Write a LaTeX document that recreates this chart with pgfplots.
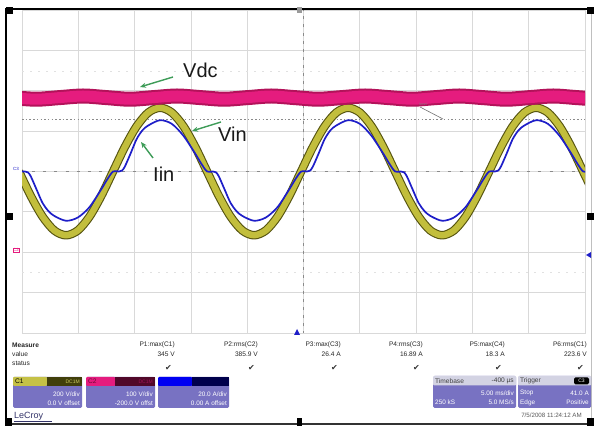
\documentclass[border=0pt]{standalone}
\usepackage{fontspec}
\setmainfont{Liberation Sans}
\newfontfamily\dejavu{DejaVu Sans}
\usepackage{pgfplots}
\usepackage{pgfplotstable}
\pgfplotsset{compat=1.18}
\usetikzlibrary{arrows.meta}

\definecolor{gridgray}{HTML}{D9D9D9}
\definecolor{dotgray}{HTML}{8A8A8A}
\definecolor{vdcPink}{HTML}{E51C7E}
\definecolor{vdcEdge}{HTML}{B3125A}
\definecolor{vinYellow}{HTML}{C2BE3C}
\definecolor{vinEdge}{HTML}{56540F}
\definecolor{iinBlue}{HTML}{1E1EC8}
\definecolor{arrowGreen}{HTML}{3E9C58}
\definecolor{boxPurple}{HTML}{7872C2}
\definecolor{stripGray}{HTML}{D3D3E3}

% traces in screen divisions (x: 5 ms/div, y: per channel V/div or A/div)
\pgfplotstableread{
x y
-0.053 0
0.156 -0.605
0.365 -1.117
0.573 -1.460
0.782 -1.58
0.991 -1.460
1.200 -1.117
1.408 -0.605
1.617 0
1.826 0.605
2.035 1.117
2.243 1.460
2.452 1.58
2.661 1.460
2.870 1.117
3.078 0.605
3.287 0
3.496 -0.605
3.705 -1.117
3.913 -1.460
4.122 -1.58
4.331 -1.460
4.540 -1.117
4.748 -0.605
4.957 0
5.166 0.605
5.375 1.117
5.583 1.460
5.792 1.58
6.001 1.460
6.210 1.117
6.418 0.605
6.627 0
6.836 -0.605
7.045 -1.117
7.253 -1.460
7.462 -1.58
7.671 -1.460
7.880 -1.117
8.088 -0.605
8.297 0
8.506 0.605
8.715 1.117
8.923 1.460
9.132 1.58
9.341 1.460
9.550 1.117
9.758 0.605
9.967 0
10.176 -0.605
}\vintab

\pgfplotstableread{
x y
-0.053 0
0.051 0
0.104 -0.02
0.156 -0.12
0.260 -0.45
0.365 -0.78
0.469 -0.98
0.573 -1.10
0.782 -1.22
0.991 -1.14
1.200 -0.88
1.408 -0.44
1.512 -0.2
1.617 0
1.721 0
1.774 0.02
1.826 0.12
1.930 0.45
2.035 0.80
2.139 1.02
2.243 1.14
2.452 1.27
2.661 1.18
2.870 0.88
3.078 0.44
3.182 0.2
3.287 0
3.391 0
3.444 -0.02
3.496 -0.12
3.600 -0.45
3.705 -0.78
3.809 -0.98
3.913 -1.10
4.122 -1.22
4.331 -1.14
4.540 -0.88
4.748 -0.44
4.852 -0.2
4.957 0
5.061 0
5.114 0.02
5.166 0.12
5.270 0.45
5.375 0.80
5.479 1.02
5.583 1.14
5.792 1.27
6.001 1.18
6.210 0.88
6.418 0.44
6.522 0.2
6.627 0
6.731 0
6.784 -0.02
6.836 -0.12
6.940 -0.45
7.045 -0.78
7.149 -0.98
7.253 -1.10
7.462 -1.22
7.671 -1.14
7.880 -0.88
8.088 -0.44
8.192 -0.2
8.297 0
8.401 0
8.454 0.02
8.506 0.12
8.610 0.45
8.715 0.80
8.819 1.02
8.923 1.14
9.132 1.27
9.341 1.18
9.550 0.88
9.758 0.44
9.862 0.2
9.967 0
10.071 0
10.124 -0.02
10.176 -0.12
}\iintab

\pgfplotstableread{
x y
-0.169 1.83
0.249 1.79
0.666 1.83
1.084 1.87
1.501 1.83
1.919 1.79
2.337 1.83
2.754 1.87
3.172 1.83
3.590 1.79
4.007 1.83
4.425 1.87
4.843 1.83
5.260 1.79
5.678 1.83
6.095 1.87
6.513 1.83
6.931 1.79
7.348 1.83
7.766 1.87
8.184 1.83
8.601 1.79
9.019 1.83
9.437 1.87
9.854 1.83
10.272 1.79
}\vdctab

\begin{document}
\begin{tikzpicture}
\fill[white] (0,0) rectangle (594pt,428pt);
\useasboundingbox (0,0) rectangle (594pt,428pt);

\begin{axis}[
  at={(22pt,95pt)}, anchor=south west,
  scale only axis, width=563pt, height=323pt,
  xmin=0, xmax=10, ymin=-4, ymax=4,
  xtick={0,1,...,10}, ytick={-4,-3,...,4},
  xticklabels={}, yticklabels={},
  tick style={draw=none},
  grid=major,
  major grid style={draw=gridgray, line width=0.8pt},
  axis line style={draw=gridgray, line width=0.8pt},
]
% screen markings
\draw[dotgray, line width=0.8pt, dash pattern=on 3pt off 8.26pt, dash phase=1.5pt]
  (axis cs:0,0) -- (axis cs:10,0);
\draw[dotgray, line width=0.8pt, dash pattern=on 3pt off 5.08pt, dash phase=1.5pt]
  (axis cs:5,-4) -- (axis cs:5,4);
\draw[gridgray!80, line width=0.8pt, dash pattern=on 2pt off 6pt]
  (axis cs:0,2.49) -- (axis cs:10,2.49);
\draw[gridgray!80, line width=0.8pt, dash pattern=on 2pt off 6pt]
  (axis cs:0,-2.51) -- (axis cs:10,-2.51);
\draw[dotgray, line width=0.9pt, dash pattern=on 1.5pt off 2.2pt]
  (axis cs:0,1.30) -- (axis cs:10,1.30);

% Vin (C1)
\addplot[vinEdge, line width=8.5pt, smooth, line join=round] table {\vintab};
\addplot[vinYellow, line width=6.3pt, smooth, line join=round] table {\vintab};
% Iin (C3)
\addplot[iinBlue, line width=1.7pt, smooth, tension=0.5, line join=round] table {\iintab};
% Vdc (C2)
\addplot[vdcEdge, line width=15pt, smooth] table {\vdctab};
\addplot[vdcPink, line width=11pt, smooth] table {\vdctab};
\end{axis}

\begin{scope}[x=1pt, y=-1pt, shift={(0pt,428pt)},
  mt/.style={font=\fontsize{6.6}{7}\selectfont, inner sep=0pt, text=black!85},
  wt/.style={font=\fontsize{6.4}{7}\selectfont, inner sep=0pt, text=white},
  big/.style={font=\fontsize{20}{22}\selectfont, inner sep=0pt, anchor=base west, text=black!90},
  garrow/.style={arrowGreen, line width=1.4pt, -{Stealth[length=6pt,width=5pt]}}]

% frame
\draw[black, line width=1.6pt] (6,9) -- (594,9);
\draw[black, line width=1.6pt] (6,8) -- (6,425);
\draw[black!80, line width=1.2pt] (6,424) -- (594,424);
\draw[black!25, line width=0.8pt] (591,9) -- (591,424);
\fill[black] (6,7) rectangle (13,14);
\fill[black] (587,7) rectangle (594,14);
\fill[black!40] (297,7) rectangle (302,13);
\fill[black] (6,213) rectangle (13,220);
\fill[black] (587,213) rectangle (594,220);
\fill[black] (5,418) rectangle (12,426);
\fill[black] (587,418) rectangle (594,426);
\fill[black] (297,418) rectangle (302,426);

% channel markers
\node[font=\fontsize{4.5}{5}\selectfont, text=iinBlue, inner sep=0pt] at (16,169) {C3};
\node[font=\fontsize{4.5}{5}\selectfont, text=vdcPink, inner sep=0.4pt, draw=vdcPink, line width=0.3pt] at (16,250) {C2};
\fill[iinBlue] (294,335) -- (300,335) -- (297,329) -- cycle;
\fill[iinBlue] (586,255) -- (591,252) -- (591,258) -- cycle;
\draw[black!55, line width=0.6pt] (420,107) -- (443,119);
\node[font=\fontsize{3.5}{4}\selectfont, text=black!50, inner sep=0pt] at (423,104) {level};

% annotations
\node[big] at (183,78) {Vdc};
\draw[garrow] (173,77) -- (140,87);
\node[big] at (218,142) {Vin};
\draw[garrow] (221,122) -- (192,131);
\node[big] at (153,182) {Iin};
\draw[garrow] (153,158) -- (141,142);

% measure table
\node[mt, anchor=west, font=\bfseries\fontsize{6.6}{7}\selectfont] at (12,345) {Measure};
\node[mt, anchor=west] at (12,354) {value};
\node[mt, anchor=west] at (12,363) {status};
\foreach \xr/\hd/\vl in {175/P1:max(C1)/345 V, 258/P2:rms(C2)/385.9 V, 341/P3:max(C3)/26.4 A,
                          423/P4:rms(C3)/16.89 A, 505/P5:max(C4)/18.3 A, 587/P6:rms(C1)/223.6 V}{
  \node[mt, anchor=east] at (\xr,345) {\hd};
  \node[mt, anchor=east] at (\xr,354) {\vl};
  \node[mt, anchor=east, text=black!80, font=\dejavu\fontsize{8}{8}\selectfont] at (\xr-3,368) {\char"2714};
}

% channel boxes
\fill[boxPurple, rounded corners=1.5pt] (13,377) rectangle (82,408);
\fill[vinYellow!95!white, rounded corners=1pt] (13,377) rectangle (47,386);
\fill[vinEdge!75!black] (47,377) rectangle (82,386);
\node[mt, anchor=west, text=black] at (15,381.5) {C1};
\node[mt, anchor=east, text=vinYellow!80!white, font=\fontsize{5}{6}\selectfont] at (80,381.5) {DC1M};
\node[wt, anchor=east] at (80,394) {200 V/div};
\node[wt, anchor=east] at (80,403) {0.0 V offset};

\fill[boxPurple, rounded corners=1.5pt] (86,377) rectangle (155,408);
\fill[vdcPink, rounded corners=1pt] (86,377) rectangle (115,386);
\fill[vdcEdge!45!black] (115,377) rectangle (155,386);
\node[mt, anchor=west, text=vdcEdge!60!black] at (88,381.5) {C2};
\node[mt, anchor=east, text=vdcPink!70!black, font=\fontsize{5}{6}\selectfont] at (153,381.5) {DC1M};
\node[wt, anchor=east] at (153,394) {100 V/div};
\node[wt, anchor=east] at (153,403) {-200.0 V offst};

\fill[boxPurple, rounded corners=1.5pt] (158,377) rectangle (229,408);
\fill[blue!95!black, rounded corners=1pt] (158,377) rectangle (192,386);
\fill[blue!30!black] (192,377) rectangle (229,386);
\node[wt, anchor=east] at (227,394) {20.0 A/div};
\node[wt, anchor=east] at (227,403) {0.00 A offset};

% timebase and trigger
\fill[boxPurple, rounded corners=1.5pt] (433,376) rectangle (516,408);
\fill[stripGray, rounded corners=1pt] (433,376) rectangle (516,385.5);
\node[mt, anchor=west, text=black!75] at (435,380.8) {Timebase};
\node[mt, anchor=east, text=black!75] at (514,380.8) {-400 µs};
\node[wt, anchor=east] at (514,393) {5.00 ms/div};
\node[wt, anchor=west] at (435,402.5) {250 kS};
\node[wt, anchor=east] at (514,402.5) {5.0 MS/s};

\fill[boxPurple, rounded corners=1.5pt] (518,376) rectangle (591,408);
\fill[stripGray, rounded corners=1pt] (518,376) rectangle (591,385.5);
\node[mt, anchor=west, text=black!75] at (520,380.8) {Trigger};
\fill[black, rounded corners=1.5pt] (574,377.3) rectangle (589,384.3);
\node[wt, font=\fontsize{5}{6}\selectfont] at (581.5,380.8) {C3};
\node[wt, anchor=west] at (520,393) {Stop};
\node[wt, anchor=east] at (589,393) {41.0 A};
\node[wt, anchor=west] at (520,402.5) {Edge};
\node[wt, anchor=east] at (589,402.5) {Positive};

% footer
\node[inner sep=0pt, anchor=west, font=\fontsize{9}{10}\selectfont, text=black!65!blue!60!gray] at (14,416) {LeCroy};
\draw[black!65!blue!60!gray, line width=0.6pt] (14,421.5) -- (52,421.5);
\node[mt, anchor=east, text=black!65, font=\fontsize{6.2}{7}\selectfont] at (582,415.5) {7/5/2008 11:24:12 AM};
\end{scope}
\end{tikzpicture}
\end{document}
